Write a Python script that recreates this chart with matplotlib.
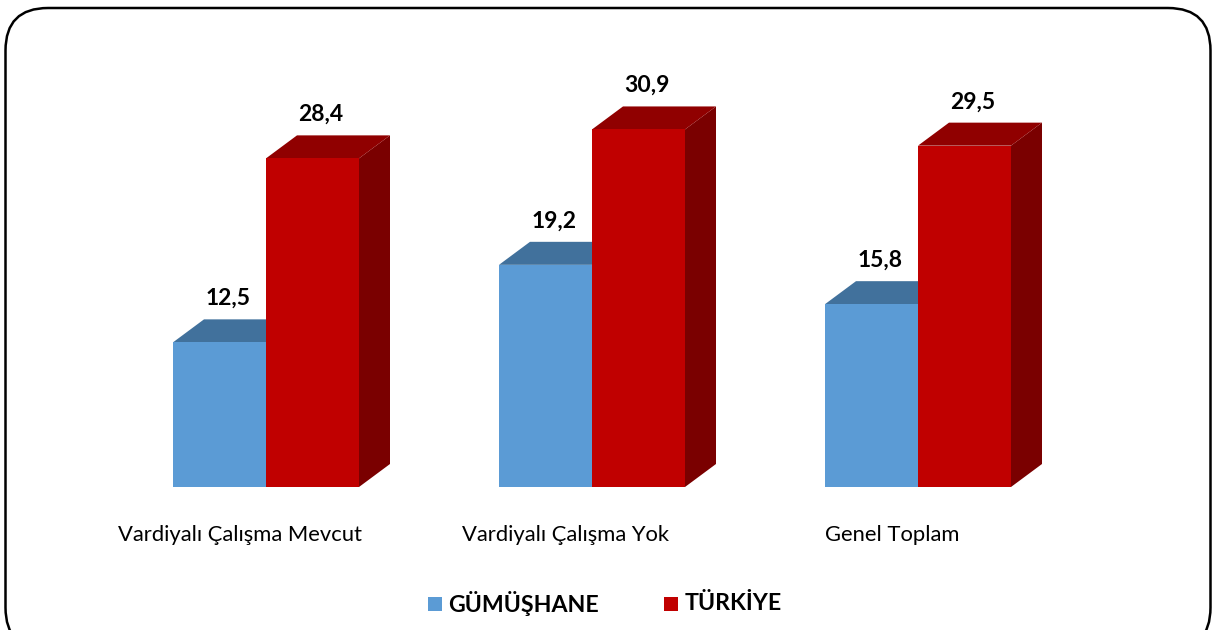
"""
Pseudo-3D grouped bar chart: GÜMÜŞHANE vs TÜRKİYE
"""

import matplotlib.pyplot as plt
import numpy as np
from matplotlib.patches import Polygon, FancyBboxPatch, Rectangle

plt.rcParams['font.family'] = ['Lato', 'DejaVu Sans']

categories = ['Vardiyalı Çalışma Mevcut', 'Vardiyalı Çalışma Yok', 'Genel Toplam']
gumushane = [12.5, 19.2, 15.8]
turkiye = [28.4, 30.9, 29.5]
series_names = ['GÜMÜŞHANE', 'TÜRKİYE']

colors = {
    'GÜMÜŞHANE': ('#5B9BD5', '#41719C', '#41719C'),   # front, top, side
    'TÜRKİYE': ('#C00000', '#900000', '#7A0000'),
}

W, H = 1215, 630
fig = plt.figure(figsize=(W / 100, H / 100), dpi=100)

# rounded frame around the whole chart
frame = FancyBboxPatch((5.5 / W, -20 / H), (1205 / W), (642 / H),
                       boxstyle='round,pad=0,rounding_size=0.035',
                       transform=fig.transFigure, fill=False,
                       edgecolor='black', linewidth=1.8, mutation_aspect=W / H)
fig.patches.append(frame)

# axes: category i -> front-face group centre
ax = fig.add_axes([103 / W, 143 / H, 978 / W, 405 / H])
ax.set_xlim(-0.5, 2.5)
ax.set_ylim(0, 35)
ax.axis('off')

bar_w = 93 / 326
dx = 31 / 326
dy = 23 / (405 / 35)

x = np.arange(len(categories))
for k, (name, vals) in enumerate(zip(series_names, [gumushane, turkiye])):
    front, top, side = colors[name]
    xs = x - bar_w + k * bar_w
    for xi, v in zip(xs, vals):
        ax.add_patch(Polygon([(xi + bar_w, 0), (xi + bar_w + dx, dy),
                              (xi + bar_w + dx, v + dy), (xi + bar_w, v)],
                             closed=True, facecolor=side, edgecolor='none'))
        ax.add_patch(Polygon([(xi, v), (xi + dx, v + dy),
                              (xi + bar_w + dx, v + dy), (xi + bar_w, v)],
                             closed=True, facecolor=top, edgecolor='none'))
    ax.bar(xs, vals, width=bar_w, align='edge', color=front, edgecolor='none')
    for xi, v in zip(xs, vals):
        ax.text(xi + bar_w / 2 + 0.025, v + dy + 0.9, f'{v:.1f}'.replace('.', ','),
                ha='center', va='bottom', fontsize=16.5, fontweight='bold')

for xi, label in zip(x, categories):
    fig.text((266 - 26 + 326 * xi) / W, 1 - 535 / H, label,
             ha='center', va='center', fontsize=15.8)

# legend
leg_items = [(428, 448, series_names[0]), (664, 685, series_names[1])]
for (sx, tx, name) in leg_items:
    fig.patches.append(Rectangle((sx / W, 1 - 611 / H), 14 / W, 14 / H,
                                 transform=fig.transFigure,
                                 facecolor=colors[name][0], edgecolor='none'))
    fig.text(tx / W, 1 - 604 / H, name, ha='left', va='center',
             fontsize=16.7, fontweight='bold')

fig.savefig('out.png', dpi=100)
